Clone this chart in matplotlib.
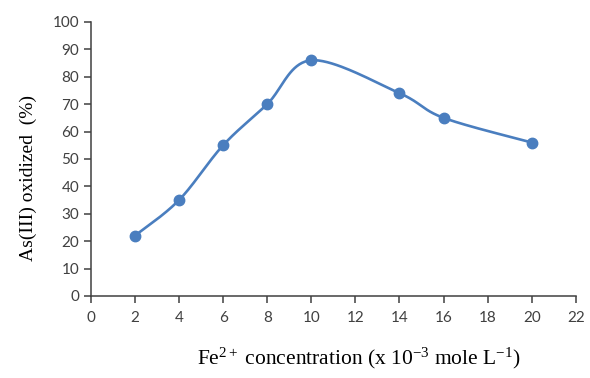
import numpy as np
import matplotlib
matplotlib.use("Agg")
import matplotlib.pyplot as plt

# data
fe_conc = [2, 4, 6, 8, 10, 14, 16, 20]
as_oxidized = [22, 35, 55, 70, 86, 74, 65, 56]

x_ticks = list(range(0, 23, 2))
y_ticks = list(range(0, 101, 10))

plt.rcParams['mathtext.fontset'] = 'custom'
plt.rcParams['mathtext.rm'] = 'Liberation Serif'
plt.rcParams['mathtext.it'] = 'Liberation Serif:italic'


def excel_smooth(x, y, n=40):
    # bezier smoothing like a spreadsheet "smoothed line"
    x = np.asarray(x, float)
    y = np.asarray(y, float)
    xs, ys = [], []
    for i in range(len(x) - 1):
        p0 = np.array([x[max(i - 1, 0)], y[max(i - 1, 0)]])
        p1 = np.array([x[i], y[i]])
        p2 = np.array([x[i + 1], y[i + 1]])
        p3 = np.array([x[min(i + 2, len(x) - 1)], y[min(i + 2, len(x) - 1)]])
        c1 = p1 + (p2 - p0) / 6.0
        c2 = p2 - (p3 - p1) / 6.0
        t = np.linspace(0, 1, n)[:, None]
        pts = ((1 - t) ** 3) * p1 + 3 * ((1 - t) ** 2) * t * c1 + 3 * (1 - t) * t ** 2 * c2 + t ** 3 * p2
        xs.extend(pts[:, 0])
        ys.extend(pts[:, 1])
    return np.array(xs), np.array(ys)


fig = plt.figure(figsize=(5.9, 3.78), dpi=100)
ax = fig.add_axes([0.154, 0.217, 0.822, 0.725])

color = '#4a7ebf'
sx, sy = excel_smooth(fe_conc, as_oxidized)
ax.plot(sx, sy, color=color, linewidth=1.9, solid_capstyle='round')
ax.plot(fe_conc, as_oxidized, 'o', color=color, markersize=7.5)

ax.set_xlim(0, 22)
ax.set_ylim(0, 100)
ax.set_xticks(x_ticks)
ax.set_yticks(y_ticks)

for side in ['top', 'right']:
    ax.spines[side].set_visible(False)
for side in ['left', 'bottom']:
    ax.spines[side].set_color('#404040')
    ax.spines[side].set_linewidth(1.1)
ax.tick_params(direction='out', length=5, width=1.1, color='#404040',
               labelsize=11, labelcolor='#404040')
for lab in ax.get_xticklabels() + ax.get_yticklabels():
    lab.set_family('Lato')
ax.tick_params(axis='x', pad=6)

ax.set_xlabel(r'Fe$^{2+}$ concentration (x 10$^{-3}$ mole L$^{-1}$)',
              family='Liberation Serif', fontsize=15.5)
ax.xaxis.set_label_coords(0.552, -0.18)
ax.set_ylabel('As(III) oxidized  (%)', family='Liberation Serif', fontsize=14)
ax.yaxis.set_label_coords(-0.112, 0.43)

fig.savefig('out.png', dpi=100)
